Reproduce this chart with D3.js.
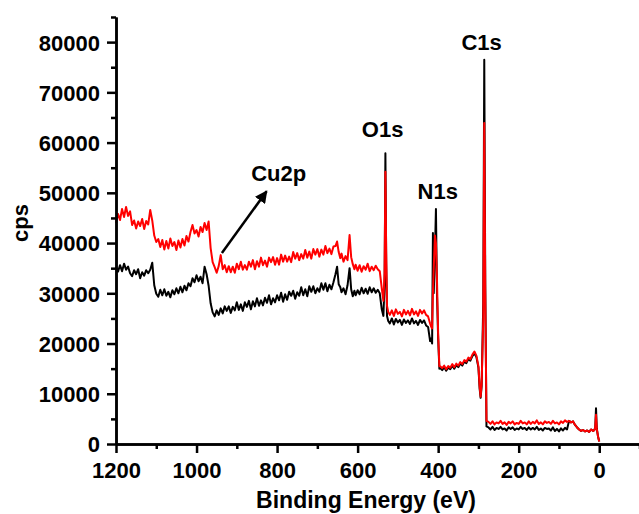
<!DOCTYPE html>
<html>
<head>
<meta charset="utf-8">
<script src="https://cdn.jsdelivr.net/npm/d3@7/dist/d3.min.js"></script>
<style>
  html, body { margin: 0; padding: 0; background: #fff; }
  svg { display: block; }
  text { font-family: Arial, "Liberation Sans", sans-serif; font-weight: bold; fill: #000; }
</style>
</head>
<body>
<svg id="chart" width="639" height="514"></svg>
<script>
// XPS survey spectra: binding energy (eV) and counts per second for two samples
const energy = [
  1200, 1195, 1190, 1185, 1180, 1175, 1170, 1165, 1160, 1155, 1150, 1145, 1140, 1135, 1130, 1125, 1120,
  1115, 1110, 1105, 1100,
  1095, 1090, 1085, 1080, 1075, 1070, 1065, 1060, 1055, 1050, 1045, 1040, 1035, 1030, 1025, 1020, 1015, 1010, 1005,
  1000, 995, 990, 985, 980, 975, 970, 965, 960, 955, 950, 945, 940, 935, 930, 925,
  920, 915, 910, 905, 900, 895, 890, 885, 880, 875, 870, 865, 860, 855, 850, 845, 840, 835, 830, 825,
  820, 815, 810, 805, 800, 795, 790, 785, 780, 775, 770, 765, 760, 755, 750, 745, 740, 735, 730, 725,
  720, 715, 710, 705, 700, 695, 690, 685, 680, 675, 670, 665, 660,
  655, 651, 647, 643, 640, 635, 630, 625, 620, 616, 612, 608, 605, 600, 595, 590, 585, 580, 575, 570, 565, 560, 555, 550, 545,
  540, 536, 533, 531, 529, 527, 524,
  520, 515, 510, 505, 500, 495, 490, 485, 480, 475, 470, 465, 460, 455, 450, 445, 440, 435, 430, 425,
  420, 418, 415, 413, 411, 408, 405.5, 403, 400, 397,
  395, 390, 385, 380, 375, 370, 365, 360, 355, 350, 345, 340, 335, 330, 325, 320, 315, 310,
  305, 300, 297, 294.5, 292, 288, 285.5, 283, 280,
  275, 270, 265, 260, 255, 250, 245, 240, 235, 230, 225, 220, 215, 210, 205, 200, 195, 190, 185, 180,
  175, 170, 165, 160, 155, 150, 145, 140, 135, 130, 125, 120, 115, 110, 105, 100, 95, 90, 85, 80,
  75, 70, 65, 60, 55, 50, 45, 40, 35, 30, 25, 20, 15, 12, 10, 8, 6, 3, 0
];

// Upper (red) spectrum
const cpsUpper = [
  44000, 45800, 44600, 46800, 45200, 47200, 45400, 46300, 43600, 44500, 42900, 44300, 43400, 44800, 42800, 44400, 43700,
  46600, 44500, 41500, 40200,
  40800, 39200, 40600, 38700, 40400, 38900, 40900, 39400, 40200, 38600, 40500, 39100, 40800, 39500, 41400, 40300, 42200, 43600, 41900,
  42600, 41300, 43200, 42200, 44000, 42600, 44300, 39000, 36200, 35200, 34100, 35400, 37600, 34800, 35600, 34200,
  35400, 34200, 35300, 34100, 35900, 34800, 36300, 34700, 35600, 34700, 36300, 35300, 36600, 34800, 36400, 35300, 37100, 35600, 36500, 35300,
  37100, 36200, 37200, 35700, 37000, 35700, 37700, 36300, 37500, 36300, 37300, 36200, 38200, 36900, 38000, 36600, 37800, 36900, 38600, 37100,
  38300, 36900, 38800, 37700, 38800, 37300, 38700, 37700, 39400, 38000, 38900, 37800, 39300,
  39400, 40300, 38200, 37000, 37900, 36300, 37400, 36600, 41600, 37200, 35800, 34800, 35700, 34500, 35600, 34300, 35400, 34700, 35900, 34400, 35300, 34600, 35500, 34800, 34400,
  31000, 28500, 34000, 54200, 38000, 27500, 26300,
  25700, 26600, 25500, 26800, 25900, 26300, 25400, 26700, 25800, 26500, 25600, 26900, 25800, 26400, 25500, 26700, 26000, 26600, 25700, 25400,
  24000, 23500, 23000, 30000, 35000, 41500, 40000, 33000, 22000, 15500,
  15500, 15100, 15600, 14900, 15500, 15200, 15900, 15300, 16000, 15600, 16300, 15900, 16700, 16400, 17200, 16900, 17800, 18400,
  17600, 15500, 11500, 9400, 12000, 25000, 63900, 30000, 4600,
  4400, 4000, 4500, 3900, 4300, 4100, 4600, 4000, 4300, 3800, 4400, 4100, 4500, 3900, 4200, 4000, 4600, 4100, 4300, 3900,
  4500, 4000, 4400, 4100, 4700, 4000, 4300, 3900, 4500, 4200, 4400, 4000, 4600, 4100, 4300, 3900, 4500, 4200, 4700, 4400,
  4600, 4300, 4500, 3800, 3300, 2900, 2600, 2800, 2500, 2700, 2400, 2900, 2600, 2800, 3200, 5800, 3000, 1500, 500
];

// Lower (black) spectrum
const cpsLower = [
  35200, 34300, 35600, 34400, 35900, 34700, 35300, 34000, 33400, 34600, 33800, 34800, 33000, 34200, 33500, 34600, 34000,
  34700, 36100, 31600, 29900,
  29300, 30700, 29600, 30800, 29500, 30300, 29200, 30600, 29800, 31000, 30000, 31300, 30200, 31500, 30600, 32000, 31400, 33000, 32200,
  33600, 32400, 33300, 32000, 35300, 33800, 31500, 28000, 26200, 25400, 26600, 25700, 27000, 26000, 27400, 26500,
  27400, 26100, 27300, 26600, 28200, 26700, 27800, 26500, 28200, 27300, 28500, 26800, 28400, 27400, 29000, 27500,
  28600, 27600, 29100, 28100, 29600, 27800, 29000, 28200, 29600, 28600, 30100, 28300, 29800, 28700, 30300, 29500,
  30500, 28900, 30200, 29500, 31200, 29600, 30800, 29400, 31400, 30300, 31400, 30000, 31000, 30300, 32000, 30700, 32000, 30400, 31700, 30800, 32200,
  33800, 35300, 31800, 31200, 30200, 31000, 29800, 31600, 35000, 30800, 29400, 30500, 29600, 30600, 29800, 31100, 30000, 30900, 29900, 31200, 30200, 31000, 30100, 30700, 30000,
  26800, 25500, 32000, 57900, 36000, 25500, 24500,
  24000, 25000, 23800, 24900, 24200, 24700, 23700, 24800, 24100, 24600, 23900, 25000, 24000, 24500, 23700, 24700, 24100, 24600, 23600, 23300,
  20500, 21000, 20000, 42000, 30000, 38000, 46800, 30000, 21000, 15000,
  15100, 14700, 15300, 14600, 15200, 14900, 15600, 15000, 15700, 15300, 16000, 15600, 16400, 16100, 16900, 16600, 17500, 18100,
  17300, 15200, 11000, 9200, 11500, 28000, 76500, 32000, 3500,
  3300, 2900, 3400, 2800, 3200, 3000, 3400, 2900, 3100, 2700, 3300, 3000, 3300, 2800, 3100, 2900, 3400, 3000, 3200, 2800,
  3300, 2900, 3200, 2900, 3400, 2800, 3100, 2700, 3200, 3000, 3100, 2700, 3300, 2600, 3000, 2500, 3100, 2700, 3200, 2900,
  4600, 4300, 4500, 3800, 3300, 2900, 2600, 2800, 2500, 2700, 2400, 2900, 2600, 2800, 3200, 7100, 3000, 1500, 500
];

// Axis ticks
const xMajorTicks = [1200, 1000, 800, 600, 400, 200, 0];
const xMinorTicks = [1100, 900, 700, 500, 300, 100, -100];
const yMajorTicks = [0, 10000, 20000, 30000, 40000, 50000, 60000, 70000, 80000];
const yMinorTicks = [5000, 15000, 25000, 35000, 45000, 55000, 65000, 75000, 85000];

// Peak labels (binding energy, cps at label baseline)
const peakLabels = [
  { text: "C1s", e: 292, v: 78500 },
  { text: "O1s", e: 538, v: 61200 },
  { text: "N1s", e: 401, v: 48800 },
  { text: "Cu2p", e: 796, v: 52300 }
];
// Arrow from the Cu 2p region toward its label
const cuArrow = { e0: 937, v0: 38000, e1: 826, v1: 50300 };

if (cpsUpper.length !== energy.length || cpsLower.length !== energy.length) {
  console.warn("series length mismatch", energy.length, cpsUpper.length, cpsLower.length);
}

const svg = d3.select("#chart");
const plot = { left: 116, right: 639.5, top: 17, bottom: 444 };

const x = d3.scaleLinear().domain([1200, -100]).range([plot.left, plot.right]);
const y = d3.scaleLinear().domain([0, 85000]).range([plot.bottom, plot.top]);

const upper = energy.map((e, i) => ({ e, v: cpsUpper[i] }));
const lower = energy.map((e, i) => ({ e, v: cpsLower[i] }));

const line = d3.line().x(d => x(d.e)).y(d => y(d.v));

svg.append("path").datum(lower)
  .attr("d", line)
  .attr("fill", "none").attr("stroke", "#000").attr("stroke-width", 2)
  .attr("stroke-linejoin", "round");

svg.append("path").datum(upper)
  .attr("d", line)
  .attr("fill", "none").attr("stroke", "#f00").attr("stroke-width", 2)
  .attr("stroke-linejoin", "round");

// Axes
const fmt = d3.format("d");
const xAxis = svg.append("g").attr("transform", `translate(0,${plot.bottom})`)
  .call(d3.axisBottom(x).tickValues(xMajorTicks).tickFormat(fmt).tickSize(9).tickSizeOuter(0));
const xMinor = svg.append("g").attr("transform", `translate(0,${plot.bottom})`)
  .call(d3.axisBottom(x).tickValues(xMinorTicks).tickFormat("").tickSize(5).tickSizeOuter(0));
const yAxis = svg.append("g").attr("transform", `translate(${plot.left},0)`)
  .call(d3.axisLeft(y).tickValues(yMajorTicks).tickFormat(fmt).tickSize(9).tickSizeOuter(0));
const yMinor = svg.append("g").attr("transform", `translate(${plot.left},0)`)
  .call(d3.axisLeft(y).tickValues(yMinorTicks).tickFormat("").tickSize(5).tickSizeOuter(0));

[xAxis, xMinor, yAxis, yMinor].forEach(g => {
  g.selectAll(".domain").attr("stroke", "#000").attr("stroke-width", 2.5);
  g.selectAll(".tick line").attr("stroke", "#000").attr("stroke-width", 2.5);
  g.selectAll(".tick text")
    .attr("fill", "#000")
    .style("font-size", "22px")
    .style("font-weight", "bold")
    .style("font-family", 'Arial, "Liberation Sans", sans-serif');
});
xAxis.selectAll(".tick text").attr("y", 34).attr("dy", 0);
yAxis.selectAll(".tick text").attr("x", -16).attr("dy", "0.36em");

// Axis titles
svg.append("text")
  .attr("x", 366).attr("y", 508)
  .attr("text-anchor", "middle")
  .style("font-size", "23px")
  .text("Binding Energy (eV)");

svg.append("text")
  .attr("transform", "translate(28,223) rotate(-90)")
  .attr("text-anchor", "middle")
  .style("font-size", "22px")
  .text("cps");

// Peak labels
svg.selectAll("text.peak").data(peakLabels).enter().append("text")
  .attr("class", "peak")
  .attr("x", d => x(d.e)).attr("y", d => y(d.v))
  .attr("text-anchor", "middle")
  .style("font-size", "22px")
  .text(d => d.text);

// Arrow
const defs = svg.append("defs");
defs.append("marker")
  .attr("id", "arrowhead")
  .attr("viewBox", "0 0 10 10")
  .attr("refX", 9).attr("refY", 5)
  .attr("markerWidth", 5).attr("markerHeight", 5)
  .attr("markerUnits", "strokeWidth")
  .attr("orient", "auto")
  .append("path").attr("d", "M0,0 L10,5 L0,10 z").attr("fill", "#000");

svg.append("line")
  .attr("x1", x(cuArrow.e0)).attr("y1", y(cuArrow.v0))
  .attr("x2", x(cuArrow.e1)).attr("y2", y(cuArrow.v1))
  .attr("stroke", "#000").attr("stroke-width", 2.5)
  .attr("marker-end", "url(#arrowhead)");
</script>
</body>
</html>
